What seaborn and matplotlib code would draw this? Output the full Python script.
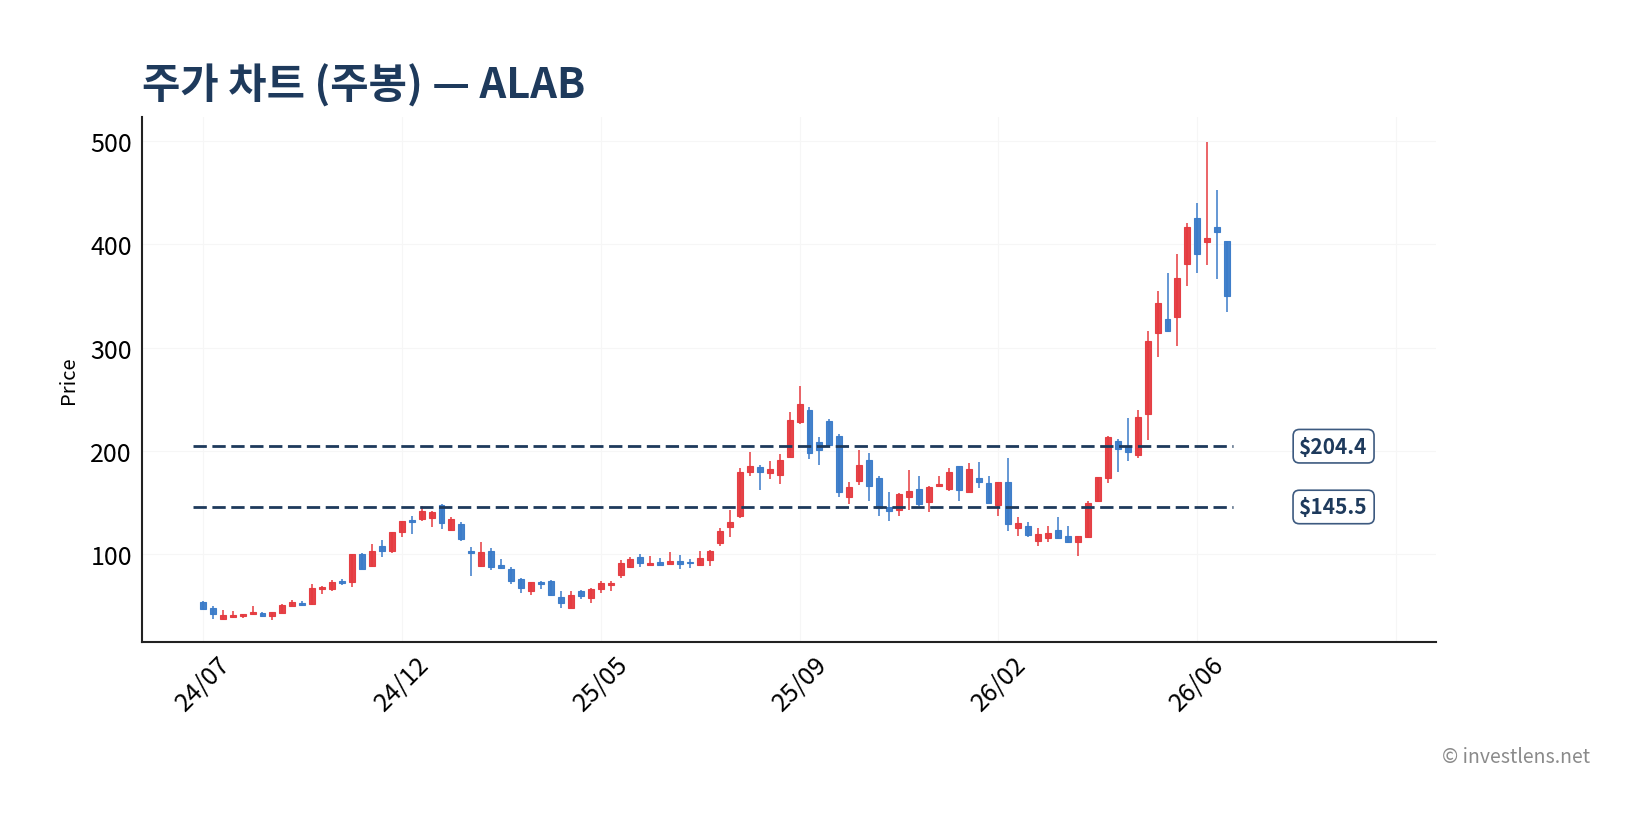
import numpy as np
import matplotlib
matplotlib.use('Agg')
import matplotlib.pyplot as plt
import seaborn as sns

# ==============================
# Weekly OHLC data (ALAB)
# ==============================
opens = [53.7, 47.6, 36.9, 39.2, 39.8, 41.8, 43.1, 39.8, 42.7, 49.5,
         52.4, 51.5, 66.0, 66.0, 73.4, 72.5, 99.9, 88.6, 108.0, 102.8,
         121.5, 132.5, 133.8, 135.0, 147.4, 123.5, 129.0, 102.9, 88.0, 102.5,
         89.3, 85.4, 75.7, 63.8, 72.5, 73.8, 58.6, 47.9, 63.8, 57.0,
         66.0, 70.2, 79.9, 87.0, 96.7, 89.6, 91.9, 90.6, 93.2, 92.5,
         89.6, 94.4, 110.3, 125.8, 137.1, 179.1, 183.9, 178.1, 176.8, 194.3,
         228.2, 239.5, 208.1, 228.5, 213.9, 154.8, 170.3, 191.0, 173.2, 145.1,
         142.8, 155.4, 162.9, 149.9, 166.1, 162.9, 184.8, 160.3, 173.2, 168.7,
         147.4, 170.0, 125.1, 126.7, 112.8, 115.4, 123.1, 117.7, 111.8, 116.0,
         150.9, 173.5, 209.7, 204.9, 196.1, 235.5, 314.0, 327.6, 329.9, 380.9,
         425.5, 402.5, 416.4, 402.9]
highs = [54.4, 49.2, 46.0, 45.0, 42.0, 49.8, 43.7, 43.7, 51.5, 55.3,
         54.4, 70.8, 69.2, 75.0, 75.7, 99.9, 100.9, 109.6, 113.8, 120.9,
         131.9, 136.4, 146.7, 141.2, 148.5, 135.5, 130.6, 106.4, 111.2, 105.4,
         95.1, 87.0, 76.7, 73.1, 73.5, 74.4, 64.4, 64.4, 65.0, 67.0,
         73.5, 73.8, 94.1, 97.4, 99.9, 98.3, 96.4, 101.6, 99.3, 95.1,
         103.2, 103.8, 125.1, 142.9, 182.9, 199.1, 186.5, 190.4, 196.8, 237.2,
         262.4, 242.7, 213.6, 230.8, 215.9, 170.0, 200.7, 197.8, 175.8, 160.3,
         159.0, 181.6, 175.8, 166.1, 175.1, 182.9, 185.5, 187.7, 189.4, 175.8,
         170.0, 192.6, 135.4, 131.2, 124.8, 127.3, 135.4, 126.7, 117.7, 151.6,
         174.8, 214.6, 211.3, 231.7, 239.4, 316.3, 354.4, 371.9, 390.6, 420.3,
         440.6, 498.8, 452.9, 402.9]
lows = [45.6, 36.9, 36.3, 37.6, 37.6, 40.8, 38.5, 36.3, 42.4, 49.2,
        49.2, 50.8, 61.1, 64.4, 69.9, 67.6, 85.4, 87.0, 96.7, 100.6,
        116.1, 119.3, 132.2, 125.7, 124.2, 121.9, 112.2, 78.9, 87.0, 84.4,
        85.4, 70.9, 62.2, 60.2, 66.0, 59.6, 47.6, 47.9, 56.3, 52.5,
        61.8, 63.8, 76.7, 86.4, 87.0, 89.6, 89.3, 90.6, 85.4, 86.0,
        88.6, 88.6, 107.4, 116.1, 134.5, 175.2, 161.9, 172.6, 167.8, 193.6,
        225.9, 192.0, 186.2, 205.6, 154.8, 148.4, 166.8, 151.6, 137.0, 132.2,
        137.0, 142.8, 146.7, 140.9, 164.5, 161.3, 151.6, 159.6, 163.5, 149.0,
        137.0, 122.5, 117.0, 116.7, 107.3, 111.2, 114.4, 110.2, 98.3, 115.1,
        150.0, 168.4, 179.0, 189.7, 192.6, 210.3, 290.4, 314.7, 301.8, 359.9,
        371.9, 380.2, 366.0, 334.7]
closes = [46.6, 42.1, 40.8, 41.1, 41.8, 44.0, 39.8, 43.7, 50.8, 53.7,
          50.8, 67.0, 67.9, 72.8, 71.8, 99.9, 85.4, 103.1, 103.1, 120.9,
          131.9, 131.2, 141.2, 140.8, 129.7, 133.9, 114.5, 101.2, 101.6, 87.7,
          86.1, 74.1, 66.7, 72.5, 71.2, 60.5, 52.8, 60.2, 58.9, 66.0,
          71.8, 71.8, 91.2, 95.1, 90.9, 91.2, 89.6, 93.2, 90.6, 90.9,
          96.1, 103.2, 121.9, 130.6, 179.1, 185.5, 179.1, 182.3, 191.0, 229.8,
          245.3, 197.5, 200.7, 205.6, 159.7, 164.5, 186.5, 165.5, 144.1, 141.2,
          158.0, 160.9, 148.3, 164.5, 167.7, 179.7, 162.2, 182.2, 169.3, 149.3,
          170.0, 129.0, 129.9, 118.3, 119.3, 120.2, 115.4, 111.8, 117.7, 149.3,
          174.8, 213.6, 201.6, 199.0, 233.0, 306.6, 343.1, 315.7, 367.3, 417.1,
          390.6, 406.1, 412.2, 350.2]

tick_positions = [0, 20, 40, 60, 80, 100, 120]
tick_labels = ['24/07', '24/12', '25/05', '25/09', '26/02', '26/06', '']

levels = [204.4, 145.5]
level_labels = ['$204.4', '$145.5']

# ==============================
# Style
# ==============================
sns.set_theme(style='white')
plt.rcParams['font.family'] = ['Noto Sans CJK KR', 'DejaVu Sans']

UP = '#e53a3f'
DOWN = '#3a7bc9'
NAVY = '#1e3a5c'

fig = plt.figure(figsize=(16.51, 8.28), dpi=100)
ax = fig.add_axes([0.0858, 0.2234, 0.784, 0.634])

o = np.array(opens)
h = np.array(highs)
l = np.array(lows)
c = np.array(closes)
x = np.arange(len(o))
colors = np.where(c >= o, UP, DOWN)

# wicks + bodies
ax.vlines(x, l, h, colors=colors, linewidth=1.1, zorder=3)
body_low = np.minimum(o, c)
body_h = np.maximum(np.abs(c - o), 0.8)
ax.bar(x, body_h, bottom=body_low, width=0.6, color=colors,
       edgecolor=colors, linewidth=0.8, alpha=0.95, zorder=4)

# support / resistance lines
for lv, txt in zip(levels, level_labels):
    ax.hlines(lv, -1, len(o) - 0.4, colors=NAVY, linewidth=2.0,
              linestyles=(0, (4.8, 2.0)), zorder=5)
    ax.text(113.7, lv, txt.replace('$', r'\$'), ha='center', va='center',
            fontsize=15, fontweight='bold', color=NAVY, zorder=6,
            bbox=dict(boxstyle='round,pad=0.3', fc='white', ec='#3d5a80', lw=1.2))

ax.set_xlim(-6.15, 124.0)
ax.set_ylim(14.6, 523.4)
ax.set_xticks(tick_positions)
ax.set_xticklabels(tick_labels, rotation=45, ha='center', fontsize=18)
ax.set_yticks([100, 200, 300, 400, 500])
ax.tick_params(axis='y', labelsize=18, length=0, pad=7, labelcolor='black')
ax.tick_params(axis='x', length=0, pad=6, labelcolor='black')
ax.set_ylabel('Price', fontsize=14.5, labelpad=8, color='black')

ax.grid(True, color='#f6f6f6', linewidth=0.8)
ax.set_axisbelow(True)
sns.despine(ax=ax)
for sp in ['left', 'bottom']:
    ax.spines[sp].set_color('#222222')
    ax.spines[sp].set_linewidth(1.5)

fig.text(142 / 1651, 1 - 99 / 828, '주가 차트 (주봉) — ALAB', ha='left',
         va='baseline', fontsize=30, fontweight='bold', color=NAVY)
fig.text(1590 / 1651, 1 - 763 / 828, '© investlens.net', ha='right',
         va='baseline', fontsize=14, color='#8a8a8a')

fig.savefig('out.png', dpi=100)
